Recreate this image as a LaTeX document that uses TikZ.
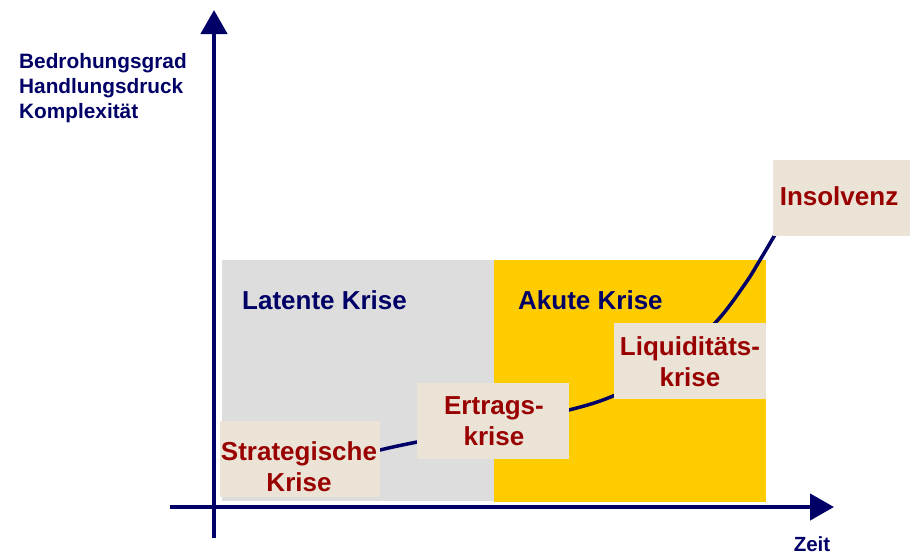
\documentclass[tikz,border=0pt]{standalone}
\usepackage{fontspec}
\setmainfont{Liberation Sans}
\usetikzlibrary{arrows.meta}

\definecolor{navy}{HTML}{000066}
\definecolor{krisered}{HTML}{990000}
\definecolor{boxbeige}{HTML}{EBE3D6}
\definecolor{latentgray}{HTML}{DDDDDD}
\definecolor{akuteyellow}{HTML}{FFCC00}

\begin{document}
\begin{tikzpicture}[x=1pt, y=-1pt,
  axisline/.style={navy, line width=4.5pt, -{Triangle[length=24pt, width=26pt]}},
  trend/.style={navy, line width=3.5pt, line cap=round},
  zone/.style={draw=none, inner sep=0pt, anchor=north west},
  krisebox/.style={fill=boxbeige, draw=none, inner sep=0pt},
  krisetext/.style={text=krisered, inner sep=0pt, anchor=north, align=center,
    font=\bfseries\fontsize{26}{31}\selectfont},
  zonelabel/.style={text=navy, inner sep=0pt, anchor=base west,
    font=\bfseries\fontsize{26}{30}\selectfont},
  axislabel/.style={text=navy, inner sep=0pt,
    font=\bfseries\fontsize{20.8}{25}\selectfont}
]
\useasboundingbox (0,0) rectangle (910,554);

% phases of the crisis
\node[zone, fill=latentgray, minimum width=272pt, minimum height=241pt] (latent) at (222,260) {};
\node[zone, fill=akuteyellow, minimum width=272pt, minimum height=242pt] (akut) at (494,260) {};
\node[zonelabel] (latentlbl) at (242,309) {Latente Krise};
\node[zonelabel] (akutlbl) at (518,309) {Akute Krise};

% axes
\coordinate (yfoot) at (214,538);
\coordinate (ytip) at (214,10);
\coordinate (xfoot) at (170,507);
\coordinate (xtip) at (834,507);
\draw[axisline] (yfoot) -- (ytip);
\draw[axisline] (xfoot) -- (xtip);

\node[axislabel, anchor=north west, align=left] (ylbl) at (19,53)
  {Bedrohungsgrad\\Handlungsdruck\\Komplexität};
\node[axislabel, anchor=base, font=\bfseries\fontsize{20.5}{24}\selectfont] (xlbl) at (812,551) {Zeit};

% course of the crisis
\draw[trend] plot[smooth, tension=0.55] coordinates
  {(330,463) (380,450) (417,442) (493,427) (569,410) (613,396)
   (666,369) (716,322) (745,284) (760,260) (776,233)};

% crisis stages
\node[krisebox, minimum width=160pt, minimum height=76pt] (strat) at (300,459) {};
\node[krisebox, minimum width=152pt, minimum height=76pt] (ertrag) at (493,421) {};
\node[krisebox, minimum width=152pt, minimum height=76pt] (liqui) at (690,361) {};
\node[krisebox, minimum width=137pt, minimum height=76pt] (insol) at (841.5,198) {};

\node[krisetext] (strattxt) at (299,441) {Strategische\\Krise};
\node[krisetext] (ertragtxt) at (494,396) {Ertrags-\\krise};
\node[krisetext] (liquitxt) at (690,336) {Liquiditäts-\\krise};
\node[krisetext] (insoltxt) at (839,186) {Insolvenz};
\end{tikzpicture}
\end{document}
